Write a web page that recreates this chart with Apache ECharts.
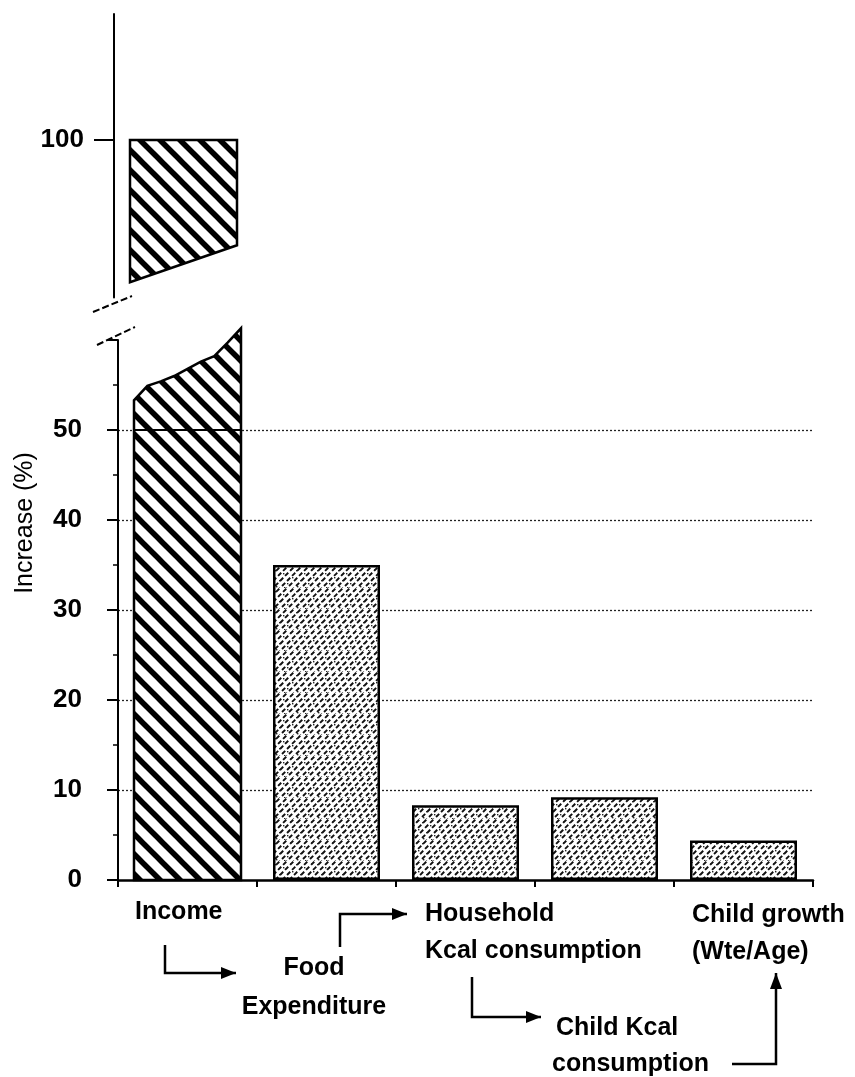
<!DOCTYPE html>
<html><head><meta charset="utf-8">
<script src="https://cdn.jsdelivr.net/npm/echarts@6/dist/echarts.min.js"></script>
<style>html,body{margin:0;padding:0;background:#fff}#c{width:855px;height:1077px}</style>
</head><body><div id="c"></div>
<script>
// ---------- data ----------
const categories = ['Income', 'Food\nExpenditure', 'Household\nKcal consumption', 'Child Kcal\nconsumption', 'Child growth\n(Wte/Age)'];
const increasePct = [100, 35, 8.3, 9.2, 4.4];
const lowerTickLabels = [0, 10, 20, 30, 40, 50];
const upperTickLabels = [100];
// jagged top of the lower (broken) part of the Income bar, evenly spaced from left to right edge
const incomeBreakTop = [53.3, 54.9, 55.4, 56.0, 56.8, 57.6, 58.2, 59.7, 61.3];
// slanted bottom of the upper part of the Income bar: left edge, right edge
const incomeBreakBottom = [84.2, 88.3];

// ---------- styles ----------
const FONT = '"Liberation Sans", Arial, Helvetica, sans-serif';
const BAR_W = 107;

function stripePattern() {
  const s = 20, c = document.createElement('canvas');
  c.width = c.height = s;
  const g = c.getContext('2d');
  g.fillStyle = '#fff'; g.fillRect(0, 0, s, s);
  g.strokeStyle = '#000'; g.lineWidth = 5.5;
  for (const k of [-1, 0, 1]) { g.beginPath(); g.moveTo(k * s - 4, -4); g.lineTo(k * s + s + 4, s + 4); g.stroke(); }
  return c;
}
function stipplePattern() {
  const s = 21, c = document.createElement('canvas');
  c.width = c.height = s;
  const g = c.getContext('2d');
  g.fillStyle = '#fff'; g.fillRect(0, 0, s, s);
  g.strokeStyle = '#111'; g.lineWidth = 1.9;
  g.setLineDash([4.5, 2.6]);
  for (let k = -3; k <= 6; k++) {
    g.beginPath(); g.moveTo(k * 7 - 3, s + 3); g.lineTo(k * 7 + s + 3, -3); g.stroke();
  }
  g.setLineDash([]);
  g.fillStyle = '#222';
  const dots = [[2,3],[10,6],[17,2],[6,13],[14,16],[19,10],[3,19],[11,20]];
  dots.forEach(d => g.fillRect(d[0], d[1], 1.4, 1.4));
  return c;
}
const stripeFill = { image: stripePattern(), repeat: 'repeat' };
const stippleFill = { image: stipplePattern(), repeat: 'repeat' };

const chart = echarts.init(document.getElementById('c'), null, { renderer: 'canvas' });

function incomeLower(params, api) {
  const ci = api.value(0);
  const c0 = api.coord([ci, 0]);
  const xl = c0[0] - BAR_W / 2, xr = c0[0] + BAR_W / 2;
  const pts = [[xl, c0[1]], [xr, c0[1]]];
  const n = incomeBreakTop.length;
  for (let i = n - 1; i >= 0; i--) {
    const x = xl + (xr - xl) * i / (n - 1);
    pts.push([x, api.coord([ci, incomeBreakTop[i]])[1]]);
  }
  const y50 = api.coord([ci, 50])[1];
  return { type: 'group', children: [
    { type: 'polygon', shape: { points: pts }, style: { fill: stripeFill, stroke: '#000', lineWidth: 2.5 } },
    { type: 'line', shape: { x1: xl, y1: y50, x2: xr, y2: y50 }, style: { stroke: '#000', lineWidth: 2.2 } }
  ]};
}
function incomeUpper(params, api) {
  const ci = api.value(0), top = api.value(1);
  const ct = api.coord([ci, top]);
  const xl = ct[0] - BAR_W / 2, xr = ct[0] + BAR_W / 2;
  const pts = [[xl, ct[1]], [xr, ct[1]],
    [xr, api.coord([ci, incomeBreakBottom[1]])[1]],
    [xl, api.coord([ci, incomeBreakBottom[0]])[1]]];
  return { type: 'polygon', shape: { points: pts }, style: { fill: stripeFill, stroke: '#000', lineWidth: 2.5 } };
}

// ---------- annotation graphics (flow labels and arrows) ----------
function txt(s, x, y, align) {
  return { type: 'text', x: x, y: y, z: 10, style: { text: s, fontFamily: FONT, fontSize: 25, fontWeight: 'bold', fill: '#000', align: align || 'left', verticalAlign: 'middle' } };
}
function arrow(pts, dir) {
  const out = [{ type: 'polyline', z: 10, shape: { points: pts }, style: { stroke: '#000', lineWidth: 2.5, fill: null } }];
  const t = pts[pts.length - 1];
  let head;
  if (dir === 'right') head = [[t[0], t[1]], [t[0] - 15, t[1] - 6], [t[0] - 15, t[1] + 6]];
  else head = [[t[0], t[1]], [t[0] - 6, t[1] + 16], [t[0] + 6, t[1] + 16]];
  out.push({ type: 'polygon', z: 10, shape: { points: head }, style: { fill: '#000' } });
  return out;
}
const L = categories.map(c => c.split('\n'));
const graphics = [
  txt(L[0][0], 135, 912),
  txt(L[1][0], 314, 968, 'center'), txt(L[1][1], 314, 1007, 'center'),
  txt(L[2][0], 425, 914), txt(L[2][1], 425, 951),
  txt(L[3][0], 556, 1028), txt(L[3][1], 552, 1064),
  txt(L[4][0], 692, 915), txt(L[4][1], 692, 952),
  ...arrow([[165, 945], [165, 973], [236, 973]], 'right'),
  ...arrow([[340, 947], [340, 914], [407, 914]], 'right'),
  ...arrow([[472, 977], [472, 1017], [541, 1017]], 'right'),
  ...arrow([[732, 1064], [776, 1064], [776, 973]], 'up'),
  { type: 'line', z: 10, shape: { x1: 93, y1: 312, x2: 132, y2: 296 }, style: { stroke: '#000', lineWidth: 2, lineDash: [7, 3] } },
  { type: 'line', z: 10, shape: { x1: 97, y1: 345, x2: 135, y2: 327 }, style: { stroke: '#000', lineWidth: 2, lineDash: [7, 3] } },
  { type: 'text', x: 25, y: 523, rotation: Math.PI / 2, z: 10, style: { text: 'Increase (%)', fontFamily: FONT, fontSize: 25, fill: '#000', align: 'center', verticalAlign: 'middle' } }
];

const option = {
  backgroundColor: '#fff',
  animation: false,
  grid: [
    { left: 114, top: 14, width: 695, height: 283.5 },
    { left: 118, top: 340, width: 695, height: 540 }
  ],
  xAxis: [
    { gridIndex: 0, type: 'category', data: categories, show: false },
    { gridIndex: 1, type: 'category', data: categories,
      axisLine: { lineStyle: { color: '#000', width: 2.5 } },
      axisTick: { show: true, length: 7, lineStyle: { color: '#000', width: 2 } },
      axisLabel: { show: false } }
  ],
  yAxis: [
    { gridIndex: 0, type: 'value', min: 82.5, max: 114,
      axisLine: { show: true, lineStyle: { color: '#000', width: 2 } },
      axisTick: { show: true, customValues: upperTickLabels, length: 20, lineStyle: { color: '#000', width: 2 } },
      axisLabel: { customValues: upperTickLabels, color: '#000', fontFamily: FONT, fontSize: 26, fontWeight: 'bold', margin: 30 },
      splitLine: { show: false } },
    { gridIndex: 1, type: 'value', min: 0, max: 60, interval: 10,
      axisLine: { show: true, lineStyle: { color: '#000', width: 2 } },
      axisTick: { show: true, length: 11, lineStyle: { color: '#000', width: 2 } },
      minorTick: { show: true, splitNumber: 2, length: 5, lineStyle: { color: '#000', width: 1.5 } },
      axisLabel: { color: '#000', fontFamily: FONT, fontSize: 26, fontWeight: 'bold', margin: 36,
        formatter: v => lowerTickLabels.indexOf(v) >= 0 ? String(v) : '' },
      splitLine: { show: true, showMaxLine: false, showMinLine: false, lineStyle: { color: '#222', width: 1.3, type: [2, 2] } } }
  ],
  series: [
    { type: 'bar', xAxisIndex: 1, yAxisIndex: 1, barWidth: BAR_W,
      data: increasePct.map((v, i) => i === 0 ? '-' : v),
      itemStyle: { color: stippleFill, borderColor: '#000', borderWidth: 2.5 } },
    { type: 'custom', xAxisIndex: 1, yAxisIndex: 1, renderItem: incomeLower, clip: false,
      data: [[0, increasePct[0]]] },
    { type: 'custom', xAxisIndex: 0, yAxisIndex: 0, renderItem: incomeUpper, clip: false,
      data: [[0, increasePct[0]]] }
  ],
  graphic: graphics
};
chart.setOption(option);
</script>
</body></html>
